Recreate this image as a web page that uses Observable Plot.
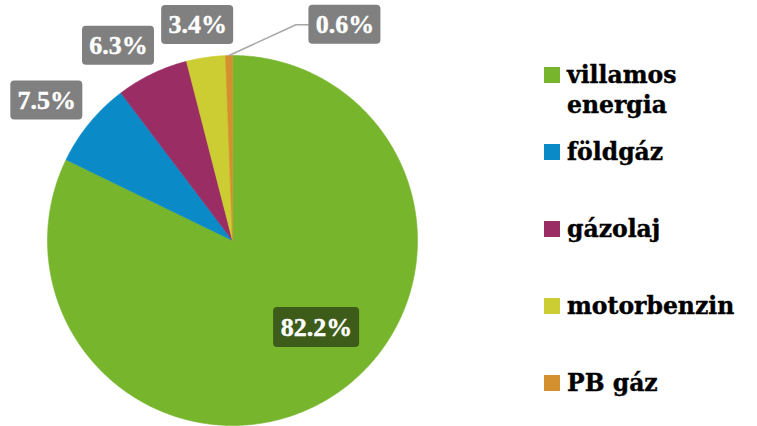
<!DOCTYPE html>
<html><head><meta charset="utf-8">
<script src="https://cdn.jsdelivr.net/npm/d3@7"></script>
<script src="https://cdn.jsdelivr.net/npm/@observablehq/plot@0.6"></script>
<style>
body{margin:0;background:#fff;}
#wrap{position:relative;width:757px;height:426px;overflow:hidden;}
#legend{position:absolute;left:544px;top:60px;font-family:"DejaVu Serif",serif;font-weight:bold;font-size:23.5px;color:#000;-webkit-text-stroke:0.4px #000;}
.item{display:flex;align-items:flex-start;height:77px;width:205px;}
.sw{width:16px;height:16px;margin-top:7px;margin-right:7px;flex:none;}
.lbl{line-height:30px;}
</style></head><body><div id="wrap"></div>
<script>
// ---- data ----
const categories = ["villamos energia", "földgáz", "gázolaj", "motorbenzin", "PB gáz"];
const shares = [82.2, 7.5, 6.3, 3.4, 0.6];
const labels = ["82.2%", "7.5%", "6.3%", "3.4%", "0.6%"];
const colors = ["#77b52d", "#0a8ac6", "#9a2e64", "#cccc33", "#d4902f"];
const boxColors = ["#3d5c19", "#808080", "#808080", "#808080", "#808080"];

// ---- layout (label placement, relative to slice mid-angle) ----
const labelRadius = [0.654, 1.257, 1.22, 1.18, 1.315];
const labelTurn = [-12, -2.4, -4.6, -0.9, 28.6]; // degrees
const leader = [false, false, false, false, true];
const pxPerUnit = 185;

const total = d3.sum(shares);
let acc = 0;
const slices = shares.map((v, i) => {
  const a0 = acc / total * 2 * Math.PI;
  acc += v;
  const a1 = acc / total * 2 * Math.PI;
  return {cat: categories[i], a0, a1, mid: (a0 + a1) / 2, i};
});

// polygon points for each slice (clockwise from 12 o'clock)
const pts = [];
for (const s of slices) {
  pts.push({cat: s.cat, x: 0, y: 0});
  const n = Math.max(2, Math.ceil((s.a1 - s.a0) / 0.01));
  for (let k = 0; k <= n; k++) {
    const a = s.a0 + (s.a1 - s.a0) * k / n;
    pts.push({cat: s.cat, x: Math.sin(a), y: Math.cos(a)});
  }
  pts.push({cat: s.cat, x: 0, y: 0});
}

// labels
const lab = slices.map(s => {
  const a = s.mid + labelTurn[s.i] * Math.PI / 180;
  const r = labelRadius[s.i];
  const cx = r * Math.sin(a), cy = r * Math.cos(a);
  const wpx = labels[s.i].length * 14 + 16;
  const hpx = s.i === 0 ? 40 : 39;
  return {
    text: labels[s.i], cx, cy,
    x1: cx - wpx / 2 / pxPerUnit, x2: cx + wpx / 2 / pxPerUnit,
    y1: cy - hpx / 2 / pxPerUnit, y2: cy + hpx / 2 / pxPerUnit,
    box: boxColors[s.i], s
  };
});

const leaderPts = [];
lab.forEach((l, i) => {
  if (!leader[i]) return;
  leaderPts.push({x: Math.sin(l.s.mid), y: Math.cos(l.s.mid)});
  leaderPts.push({x: l.x1 - 13 / pxPerUnit, y: l.cy});
  leaderPts.push({x: l.x1, y: l.cy});
});

const chart = Plot.plot({
  width: 757, height: 426,
  marginLeft: 47, marginRight: 340, marginTop: 55, marginBottom: 1,
  x: {domain: [-1, 1], axis: null},
  y: {domain: [-1, 1], axis: null},
  color: {domain: categories, range: colors},
  marks: [
    Plot.line(pts, {x: "x", y: "y", z: "cat", fill: "cat", stroke: "cat", strokeWidth: 0.6, curve: "linear-closed"}),
    Plot.line(leaderPts, {x: "x", y: "y", stroke: "#a6a6a6", strokeWidth: 1.5}),
    Plot.rect(lab, {x1: "x1", x2: "x2", y1: "y1", y2: "y2", fill: d => d.box, rx: 4}),
    Plot.text(lab, {x: "cx", y: "cy", text: "text", fill: "white", stroke: "white", strokeWidth: 0.4, fontSize: 26, fontWeight: "bold", fontFamily: "'Liberation Serif', serif"})
  ]
});
const wrap = document.getElementById("wrap");
wrap.appendChild(chart);

const legend = document.createElement("div");
legend.id = "legend";
categories.forEach((c, i) => {
  const it = document.createElement("div");
  it.className = "item";
  const sw = document.createElement("div");
  sw.className = "sw";
  sw.style.background = colors[i];
  const t = document.createElement("div");
  t.className = "lbl";
  t.textContent = c;
  it.appendChild(sw); it.appendChild(t);
  legend.appendChild(it);
});
wrap.appendChild(legend);
</script></body></html>
